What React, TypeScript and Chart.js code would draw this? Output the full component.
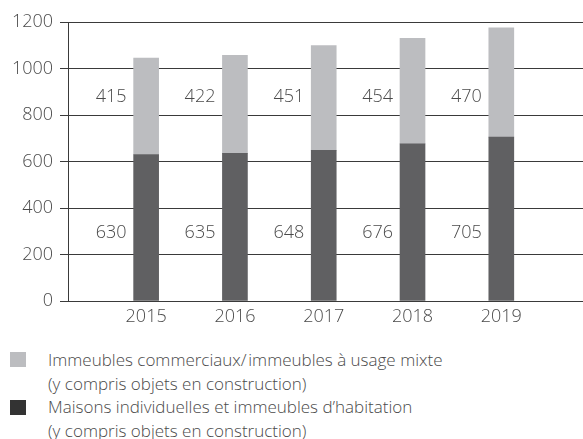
import React, { useEffect, useRef } from "react";
import { Chart, registerables } from "chart.js";

Chart.register(...registerables);

const years = [2015, 2016, 2017, 2018, 2019];
const residential = [630, 635, 648, 676, 705];
const commercial = [415, 422, 451, 454, 470];
const yTicks = [0, 200, 400, 600, 800, 1000, 1200];
const labelLevels = [293, 880]; // value level at which each series' labels sit
const legendItems = [
  { lines: ["Immeubles commerciaux/\u200Aimmeubles à usage mixte", "(y compris objets en construction)"], color: "#bcbdc0" },
  { lines: ["Maisons individuelles et immeubles d’habitation", "(y compris objets en construction)"], color: "#333333" },
];

const FONT = "'Open Sans', 'DejaVu Sans', sans-serif";
const TEXT = "#4a4a4a";

const valueLabels = {
  id: "valueLabels",
  afterDatasetsDraw(chart: any) {
    const ctx = chart.ctx;
    const ys = chart.scales.y;
    ctx.save();
    ctx.font = `300 18px ${FONT}`;
    ctx.fillStyle = TEXT;
    ctx.textAlign = "right";
    ctx.textBaseline = "middle";
    chart.data.datasets.forEach((ds: any, i: number) => {
      const meta = chart.getDatasetMeta(i);
      meta.data.forEach((bar: any, j: number) => {
        const x = bar.x - bar.width / 2 - 7;
        const y = ys.getPixelForValue(labelLevels[i]);
        ctx.fillText(String(ds.data[j].y), x, y);
      });
    });
    ctx.restore();
  },
};

export default function App() {
  const ref = useRef<HTMLCanvasElement>(null);
  useEffect(() => {
    if (!ref.current) return;
    const chart = new Chart(ref.current, {
      type: "bar",
      data: {
        datasets: [
          {
            label: legendItems[1].lines.join(" "),
            data: years.map((x, i) => ({ x, y: residential[i] })),
            backgroundColor: "#606062",
            barThickness: 25,
          },
          {
            label: legendItems[0].lines.join(" "),
            data: years.map((x, i) => ({ x, y: commercial[i] })),
            backgroundColor: "#bcbdc0",
            barThickness: 25,
          },
        ],
      },
      options: {
        responsive: false,
        animation: false,
        devicePixelRatio: 1,
        layout: { padding: { top: 22, right: 0, left: 0, bottom: 0 } },
        plugins: { legend: { display: false }, tooltip: { enabled: false } },
        scales: {
          x: {
            type: "linear",
            stacked: true,
            offset: false,
            grace: 0,
            min: 2014.12,
            max: 2019.92,
            grid: { display: false, drawTicks: false, tickLength: 0 },
            border: { display: false },
            afterBuildTicks: (s: any) => {
              s.ticks = years.map((v) => ({ value: v }));
            },
            afterFit: (s: any) => {
              s.height = 39;
            },
            ticks: {
              padding: 5,
              color: TEXT,
              font: { family: FONT, size: 18, weight: "300" as any },
              callback: (v: any) => String(v),
            },
          },
          y: {
            stacked: true,
            min: 0,
            max: 1200,
            afterBuildTicks: (s: any) => {
              s.ticks = yTicks.map((v) => ({ value: v }));
            },
            afterFit: (s: any) => {
              s.width = 68;
            },
            grid: { color: "#3a3a3a", lineWidth: 1, tickLength: 8 },
            border: { display: true, color: "#3a3a3a", width: 1 },
            ticks: {
              padding: 7,
              color: TEXT,
              font: { family: FONT, size: 18, weight: "300" as any },
              callback: (v: any) => String(v),
            },
          },
        },
      },
      plugins: [valueLabels],
    });
    return () => chart.destroy();
  }, []);

  return (
    <div style={{ position: "fixed", left: 0, top: 0, width: 583, height: 439, background: "#fff", fontFamily: FONT, overflow: "hidden" }}>
      <canvas ref={ref} width={583} height={340} style={{ display: "block" }} />
      <div style={{ position: "absolute", left: 0, top: 348, color: TEXT, fontSize: 17, fontWeight: 300, lineHeight: "23.5px" }}>
        {legendItems.map((it, i) => (
          <div key={i} style={{ position: "relative", paddingLeft: 48 }}>
            <span style={{ position: "absolute", left: 10, top: 4 + i, width: 16, height: 15, background: it.color }} />
            {it.lines.map((l, k) => (
              <div key={k} style={{ whiteSpace: "nowrap" }}>{l}</div>
            ))}
          </div>
        ))}
      </div>
    </div>
  );
}
